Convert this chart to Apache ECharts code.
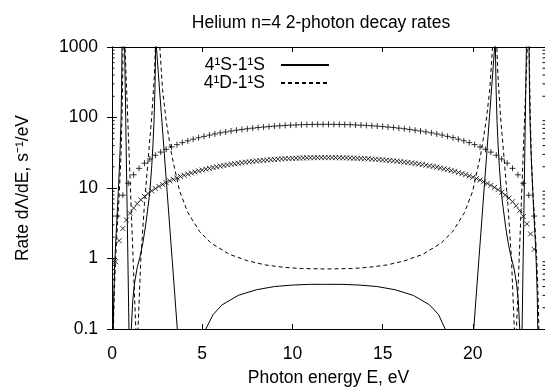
<!DOCTYPE html>
<html>
<head>
<meta charset="utf-8">
<script src="https://cdn.jsdelivr.net/npm/echarts@6/dist/echarts.min.js"></script>
<style>
  html, body { margin: 0; background: #fff; }
  #chart { width: 545px; height: 392px; }
</style>
</head>
<body>
<div id="chart"></div>
<script>
const font = '"Liberation Sans", Arial, sans-serif'

// photon energy E (eV), rate (s^-1/eV); poles go off the top, zeros off the bottom
const rate4S = [
  [0.02, 0.0005], [0.05, 0.05], [0.1, 0.3], [0.15, 0.8], [0.2, 1.6], [0.25, 2.8], [0.3, 5], [0.35, 9],
  [0.4, 17], [0.45, 35], [0.5, 90], [0.53, 250], [0.55, 800], [0.565, 4000], [0.575, 1e5],
  [0.585, 1e5], [0.62, 1e4], [0.66, 3000], [0.7, 1000], [0.76, 100], [0.82, 10], [0.88, 1], [0.94, 0.1],
  [0.97, 0.01], [1.0, 0.001], [1.03, 0.01], [1.07, 0.1], [1.15, 0.25], [1.25, 0.45], [1.4, 0.75],
  [1.55, 1.05], [1.7, 1.6], [1.85, 2.8], [2.0, 5.5], [2.1, 9], [2.2, 20], [2.27, 41], [2.33, 90],
  [2.38, 250], [2.41, 700], [2.43, 2000], [2.445, 1e5],
  [2.455, 1e5], [2.46, 1000], [2.75, 100], [3.04, 10], [3.33, 1], [3.62, 0.1], [3.9, 0.01], [4.2, 0.001],
  [4.4, 0.0001], [4.6, 0.005], [4.85, 0.03], [5.2, 0.1], [5.6, 0.16], [6.1, 0.22], [7, 0.3], [8, 0.36],
  [9, 0.4], [10, 0.42], [11, 0.43], [11.84, 0.43], [12.7, 0.43], [13.7, 0.42], [14.7, 0.4], [15.7, 0.36],
  [16.7, 0.3], [17.6, 0.22], [18.1, 0.16], [18.47, 0.1], [18.85, 0.03], [19.1, 0.005], [19.3, 0.0001],
  [19.5, 0.001], [19.8, 0.01], [20.05, 0.1], [20.34, 1], [20.63, 10], [20.92, 100], [21.21, 1000],
  [21.215, 1e5], [21.225, 1e5], [21.24, 2000], [21.26, 700], [21.29, 250], [21.34, 90], [21.4, 41],
  [21.47, 20], [21.57, 9], [21.67, 5.5], [21.82, 2.8], [21.97, 1.6], [22.12, 1.05], [22.27, 0.75],
  [22.42, 0.45], [22.52, 0.25], [22.6, 0.1], [22.64, 0.01], [22.67, 0.001], [22.7, 0.01], [22.73, 0.1],
  [22.79, 1], [22.85, 10], [22.91, 100], [22.97, 1000], [23.01, 3000], [23.05, 1e4], [23.085, 1e5],
  [23.095, 1e5], [23.105, 4000], [23.12, 800], [23.14, 250], [23.17, 90], [23.22, 35], [23.27, 17],
  [23.32, 9], [23.37, 5], [23.42, 2.8], [23.47, 1.6], [23.52, 0.8], [23.57, 0.3], [23.62, 0.05], [23.65, 0.0005]
]

const rate4D = [
  [0.02, 0.0005], [0.05, 0.03], [0.1, 0.2], [0.2, 1.0], [0.3, 3], [0.4, 8], [0.5, 30], [0.56, 120],
  [0.6, 500], [0.63, 3000], [0.645, 1e5],
  [0.655, 1e5], [0.67, 5000], [0.72, 1000], [0.87, 100], [1.02, 10], [1.17, 1], [1.32, 0.1],
  [1.35, 0.01], [1.38, 0.001], [1.41, 0.01], [1.44, 0.1], [1.6, 1], [1.8, 6], [2.0, 25], [2.2, 100],
  [2.35, 400], [2.45, 2000], [2.51, 1e5],
  [2.53, 1e5], [2.56, 5000], [2.65, 1000], [2.8, 250], [3.0, 90], [3.3, 30], [3.75, 9], [4.2, 4.5],
  [4.86, 2.4], [5.5, 1.65], [6.5, 1.15], [7.5, 0.93], [8.5, 0.81], [9.5, 0.75], [10.5, 0.72], [11.87, 0.71],
  [13.24, 0.72], [14.24, 0.75], [15.24, 0.81], [16.24, 0.93], [17.24, 1.15], [18.24, 1.65], [18.88, 2.4],
  [19.54, 4.5], [19.99, 9], [20.44, 30], [20.74, 90], [20.94, 250], [21.09, 1000], [21.18, 5000], [21.21, 1e5],
  [21.23, 1e5], [21.29, 2000], [21.39, 400], [21.54, 100], [21.74, 25], [21.94, 6], [22.14, 1],
  [22.3, 0.1], [22.33, 0.01], [22.36, 0.001], [22.39, 0.01], [22.42, 0.1], [22.57, 1], [22.72, 10],
  [22.87, 100], [23.02, 1000], [23.07, 5000], [23.085, 1e5],
  [23.095, 1e5], [23.11, 3000], [23.14, 500], [23.18, 120], [23.24, 30], [23.34, 8], [23.44, 3],
  [23.54, 1], [23.64, 0.2], [23.69, 0.03], [23.72, 0.0005]
]

const plusE = [
  0.3, 0.6, 0.9, 1.2, 1.5, 1.8, 2.1, 2.4, 2.7, 3.0, 3.3, 3.6, 3.9, 4.2, 4.5, 4.8, 5.1, 5.4, 5.7, 6.0,
  6.3, 6.6, 6.9, 7.2, 7.5, 7.8, 8.1, 8.4, 8.7, 9.0, 9.3, 9.6, 9.9, 10.2, 10.5, 10.8, 11.1, 11.4, 11.7,
  12.0, 12.3, 12.6, 12.9, 13.2, 13.5, 13.8, 14.1, 14.4, 14.7, 15.0, 15.3, 15.6, 15.9, 16.2, 16.5, 16.8,
  17.1, 17.4, 17.7, 18.0, 18.3, 18.6, 18.9, 19.2, 19.5, 19.8, 20.1, 20.4, 20.7, 21.0, 21.3, 21.6, 21.9,
  22.2, 22.5, 22.8, 23.1, 23.4
]
const plusRate = [
  4.0, 7.9, 11.7, 15.4, 19.0, 22.5, 25.8, 29.1, 32.3, 35.4, 38.3, 41.2, 44.0, 46.7, 49.2, 51.7, 54.0,
  56.3, 58.4, 60.5, 62.4, 64.3, 66.0, 67.7, 69.2, 70.6, 72.0, 73.2, 74.3, 75.4, 76.3, 77.1, 77.8, 78.4,
  79.0, 79.4, 79.7, 79.9, 80.0,
  80.0, 79.9, 79.7, 79.4, 79.0, 78.4, 77.8, 77.1, 76.3, 75.4, 74.3, 73.2, 72.0, 70.6, 69.2, 67.7, 66.0,
  64.3, 62.4, 60.5, 58.4, 56.3, 54.0, 51.7, 49.2, 46.7, 44.0, 41.2, 38.3, 35.4, 32.3, 29.1, 25.8, 22.5,
  19.0, 15.4, 11.7, 7.9, 4.0
]

const crossE = [
  0.2, 0.4, 0.6, 0.8, 1.0, 1.2, 1.4, 1.6, 1.8, 2.0, 2.2, 2.4, 2.6, 2.8, 3.0, 3.2, 3.4, 3.6, 3.8, 4.0,
  4.2, 4.4, 4.6, 4.8, 5.0, 5.2, 5.4, 5.6, 5.8, 6.0, 6.2, 6.4, 6.6, 6.8, 7.0, 7.2, 7.4, 7.6, 7.8, 8.0,
  8.2, 8.4, 8.6, 8.8, 9.0, 9.2, 9.4, 9.6, 9.8, 10.0, 10.2, 10.4, 10.6, 10.8, 11.0, 11.2, 11.4, 11.6, 11.8,
  12.0, 12.2, 12.4, 12.6, 12.8, 13.0, 13.2, 13.4, 13.6, 13.8, 14.0, 14.2, 14.4, 14.6, 14.8, 15.0, 15.2,
  15.4, 15.6, 15.8, 16.0, 16.2, 16.4, 16.6, 16.8, 17.0, 17.2, 17.4, 17.6, 17.8, 18.0, 18.2, 18.4, 18.6,
  18.8, 19.0, 19.2, 19.4, 19.6, 19.8, 20.0, 20.2, 20.4, 20.6, 20.8, 21.0, 21.2, 21.4, 21.6, 21.8, 22.0,
  22.2, 22.4, 22.6, 22.8, 23.0, 23.2, 23.4
]
const crossRate = [
  0.90, 1.79, 2.67, 3.52, 4.37, 5.19, 6.00, 6.80, 7.58, 8.35, 9.10, 9.83, 10.55, 11.25, 11.94, 12.61,
  13.27, 13.91, 14.54, 15.15, 15.75, 16.33, 16.90, 17.45, 17.98, 18.50, 19.00, 19.49, 19.96, 20.42,
  20.86, 21.29, 21.70, 22.10, 22.48, 22.85, 23.20, 23.53, 23.85, 24.15, 24.44, 24.71, 24.97, 25.21,
  25.44, 25.65, 25.85, 26.03, 26.20, 26.35, 26.48, 26.60, 26.70, 26.79, 26.86, 26.92, 26.96, 26.99,
  27.00, 27.00, 26.98, 26.94, 26.89, 26.83, 26.75, 26.65, 26.54, 26.41, 26.27, 26.11, 25.94, 25.75,
  25.55, 25.33, 25.10, 24.85, 24.58, 24.30, 24.00, 23.69, 23.36, 23.02, 22.66, 22.29, 21.90, 21.50,
  21.08, 20.65, 20.20, 19.73, 19.25, 18.75, 18.24, 17.71, 17.17, 16.61, 16.04, 15.45, 14.85, 14.23,
  13.60, 12.95, 12.28, 11.60, 10.90, 10.19, 9.47, 8.72, 7.97, 7.19, 6.40, 5.60, 4.78, 3.95, 3.10,
  2.23, 1.35
]

const energyTicks = [0, 5, 10, 15, 20]
const minorTicks = [
  0.2, 0.3, 0.4, 0.5, 0.6, 0.7, 0.8, 0.9, 2, 3, 4, 5, 6, 7, 8, 9,
  20, 30, 40, 50, 60, 70, 80, 90, 200, 300, 400, 500, 600, 700, 800, 900
]

const chart = echarts.init(document.getElementById('chart'))
const txt = { color: '#000', fontFamily: font, fontSize: 17.5 }
const axisLine = { lineStyle: { color: '#000', width: 1 } }
const tick = { inside: true, length: 5, lineStyle: { color: '#000' } }

chart.setOption({
  animation: false,
  backgroundColor: '#fff',
  title: {
    text: 'Helium n=4 2-photon decay rates',
    left: 316, top: 9, textAlign: 'center',
    textStyle: { ...txt, fontWeight: 'normal' }
  },
  legend: {
    data: ['4¹S-1¹S', '4¹D-1¹S'],
    orient: 'vertical', align: 'right',
    right: 210, top: 51,
    itemWidth: 48, itemHeight: 10, itemGap: 0,
    itemStyle: { color: 'rgba(0,0,0,0)', borderWidth: 0, opacity: 0 },
    textStyle: { ...txt, lineHeight: 17, padding: [0, 11, 0, 0] }
  },
  grid: { left: 112, right: -1, top: 47, bottom: 57 },
  xAxis: [
    {
      type: 'value', min: 0, max: 24, interval: 5,
      axisLine, splitLine: { show: false },
      axisTick: { ...tick, customValues: energyTicks },
      axisLabel: { ...txt, margin: 16, customValues: energyTicks },
      name: 'Photon energy E, eV', nameLocation: 'middle', nameGap: 40,
      nameTextStyle: { ...txt }
    },
    {
      type: 'value', position: 'top', min: 0, max: 24, interval: 5,
      axisLine, splitLine: { show: false },
      axisTick: { ...tick, customValues: energyTicks },
      axisLabel: { show: false }
    }
  ],
  yAxis: [
    {
      type: 'log', logBase: 10, min: 0.1, max: 1000,
      axisLine, splitLine: { show: false },
      axisTick: tick,
      axisLabel: { ...txt, margin: 14, formatter: (v) => String(+v.toPrecision(3)) },
      name: 'Rate dΛ/dE, s⁻¹/eV', nameLocation: 'middle', nameGap: 80, nameRotate: 90,
      nameTextStyle: { ...txt }
    },
    {
      type: 'log', logBase: 10, min: 0.1, max: 1000, position: 'right',
      axisLine, splitLine: { show: false },
      axisTick: tick,
      axisLabel: { show: false }
    }
  ],
  series: [
    {
      name: '4¹S-1¹S', type: 'line', data: rate4S,
      showSymbol: false, symbol: 'none', clip: true, z: 4,
      lineStyle: { color: '#000', width: 1 }, itemStyle: { color: '#000' }
    },
    {
      name: '4¹D-1¹S', type: 'line', data: rate4D,
      showSymbol: false, symbol: 'none', clip: true, z: 4,
      lineStyle: { color: '#000', width: 1, type: [4, 3] }, itemStyle: { color: '#000' }
    },
    {
      name: 'plus', type: 'scatter', z: 3,
      data: plusE.map((e, i) => [e, plusRate[i]]),
      symbol: 'path://M0,5L10,5M5,0L5,10', symbolSize: 6,
      itemStyle: { color: 'rgba(0,0,0,0)', borderColor: '#000', borderWidth: 1 }
    },
    {
      name: 'cross', type: 'scatter', z: 3,
      data: crossE.map((e, i) => [e, crossRate[i]]),
      symbol: 'path://M0,0L10,10M10,0L0,10', symbolSize: 5,
      itemStyle: { color: 'rgba(0,0,0,0)', borderColor: '#000', borderWidth: 1 }
    },
    {
      name: 'minor', type: 'custom', silent: true, z: 5,
      data: minorTicks.map((v) => [0, v]),
      renderItem: (params, api) => {
        const v = api.value(1)
        const l = api.coord([0, v])
        const r = api.coord([24, v])
        const s = { stroke: '#000', lineWidth: 1 }
        return {
          type: 'group',
          children: [
            { type: 'line', shape: { x1: l[0], y1: l[1], x2: l[0] + 2.5, y2: l[1] }, style: s },
            { type: 'line', shape: { x1: r[0] - 2.5, y1: r[1], x2: r[0], y2: r[1] }, style: s }
          ]
        }
      }
    }
  ]
})
</script>
</body>
</html>
